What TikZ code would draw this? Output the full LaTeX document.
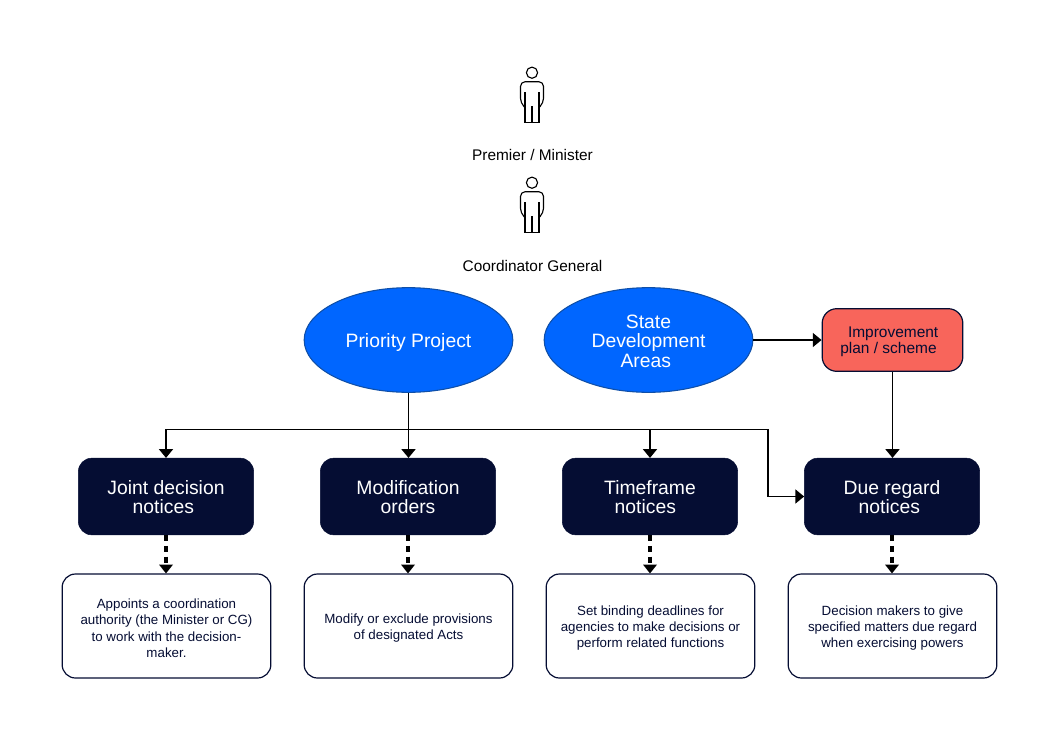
\documentclass[tikz,border=0pt]{standalone}
\usepackage{fontspec}
\setmainfont{Liberation Sans}
\usetikzlibrary{arrows.meta,shapes.geometric}
\definecolor{navy}{HTML}{050D33}
\definecolor{bluefill}{HTML}{0066FF}
\definecolor{blueline}{HTML}{0F4FA8}
\definecolor{redfill}{HTML}{F8655B}
\newcommand{\topfix}[1]{\rule{0pt}{#1pt}}
\tikzset{
  x=0.75pt,y=-0.75pt,
  tip/.style={-{Triangle[length=6.6pt,width=10.5pt]}},
  solidarrow/.style={draw=black,line width=1.25pt,tip},
  dasharrow/.style={draw=black,line width=2.6pt,dash pattern=on 4.5pt off 3.6pt,
     -{Triangle[length=6.6pt,width=10.5pt,line width=0pt]}},
  darkbox/.style={draw=navy,fill=navy,rounded corners=10pt,minimum width=131.4pt,minimum height=57.5pt,
     text=white,align=center,font=\fontsize{14.5}{14.4}\selectfont,inner sep=0pt},
  whitebox/.style={draw=navy,line width=0.9pt,fill=white,rounded corners=10pt,minimum width=156.5pt,minimum height=78pt,
     text=navy,align=center,font=\fontsize{10}{12.35}\selectfont,inner sep=0pt},
  blueell/.style={ellipse,draw=blueline,line width=0.8pt,fill=bluefill,minimum width=156.5pt,minimum height=78.5pt,
     text=white,align=center,font=\fontsize{14.5}{14.4}\selectfont,inner sep=0pt},
  redbox/.style={draw=navy,line width=0.9pt,fill=redfill,rounded corners=11pt,minimum width=105.5pt,minimum height=47pt,
     text=navy,align=center,font=\fontsize{11.6}{12}\selectfont,inner sep=0pt},
  personlabel/.style={text=black,font=\fontsize{11.55}{12}\selectfont,inner sep=0pt},
  personline/.style={draw=black,line width=0.85pt,line join=round},
  person/.pic={
    \draw[personline] (0,-26.8) circle[radius=5.6];
    \draw[personline] (-7,23.2) -- (-7,-7.8) (7,23.2) -- (7,-7.8) (0,6.5) -- (0,23.2) (-7,23.2) -- (7,23.2);
    \draw[personline,rounded corners=3.5pt] (-7,8) -- (-11.5,3.5) -- (-11.5,-17.8) -- (11.5,-17.8) -- (11.5,3.5) -- (7,8);
  }
}
\begin{document}
\begin{tikzpicture}
\useasboundingbox (0,0) rectangle (1060,746);
\pic at (532,99.5) {person};
\pic at (532,209.5) {person};
\node[personlabel] (pm) at (532.5,155) {Premier / Minister};
\node[personlabel] (cg) at (532.5,265.5) {Coordinator General};

\node[blueell] (pp) at (408.5,340) {\topfix{14.5}Priority Project};
\node[blueell] (sda) at (648.5,340) {\topfix{12.1}State\\Development\\Areas\hspace*{4pt}};
\node[redbox] (imp) at (892.5,340) {\topfix{10.7}\hspace*{1pt}Improvement\\plan / scheme\hspace*{6pt}};

\node[darkbox] (jd) at (166,496.5) {\topfix{11.4}Joint decision\\notices\hspace*{4pt}};
\node[darkbox] (mo) at (408,496.5) {\topfix{11.4}Modification\\orders};
\node[darkbox] (tn) at (650,496.5) {\topfix{11.4}Timeframe\\notices\hspace*{7pt}};
\node[darkbox] (dr) at (892,496.5) {\topfix{11.4}Due regard\\notices\hspace*{4pt}};

\node[whitebox] (w1) at (166.5,626) {\topfix{10.3}Appoints a coordination\\authority (the Minister or CG)\\to work with the decision-\\maker.};
\node[whitebox] (w2) at (408.5,626) {\topfix{10.3}Modify or exclude provisions\\of designated Acts};
\node[whitebox] (w3) at (650.5,626) {\topfix{10.3}Set binding deadlines for\\agencies to make decisions or\\perform related functions};
\node[whitebox] (w4) at (892.5,626) {\topfix{10.3}Decision makers to give\\specified matters due regard\\when exercising powers};

\coordinate (bus) at (408.5,429.5);
\coordinate (busturn) at (768,429.5);

\draw[solidarrow] (sda.east) -- (imp.west);
\draw[solidarrow] (imp.south) -- (imp.south |- dr.north);
\draw[solidarrow] (pp.south) -- (pp.south |- mo.north);
\draw[solidarrow] (bus) -| (jd.north);
\draw[solidarrow] (bus) -| (tn.north);
\draw[solidarrow] (bus) -- (busturn) |- (dr.west);

\draw[dasharrow] (jd.south) -- (jd.south |- w1.north);
\draw[dasharrow] (mo.south) -- (mo.south |- w2.north);
\draw[dasharrow] (tn.south) -- (tn.south |- w3.north);
\draw[dasharrow] (dr.south) -- (dr.south |- w4.north);
\end{tikzpicture}
\end{document}
